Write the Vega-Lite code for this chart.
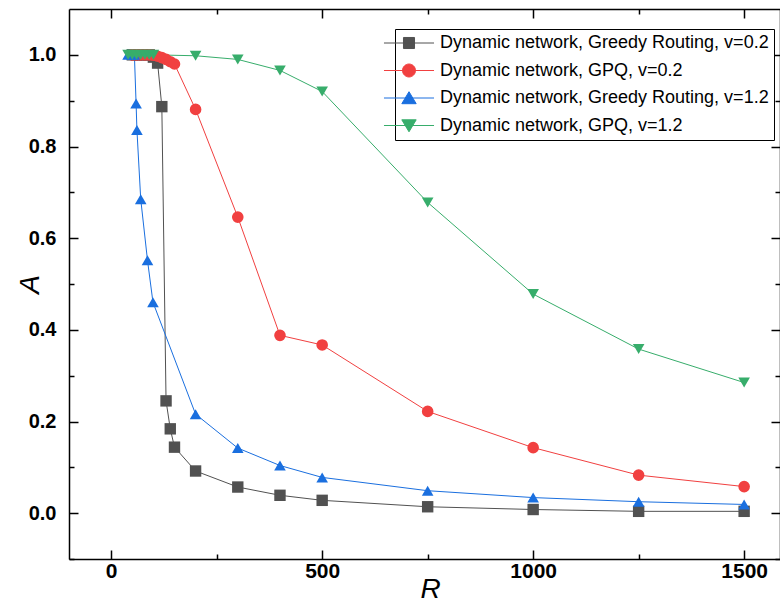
{
  "$schema": "https://vega.github.io/schema/vega-lite/v6.json",
  "width": 711,
  "height": 550,
  "autosize": "none",
  "padding": {"left": 69, "top": 9, "right": 0, "bottom": 44},
  "config": {"view": {"stroke": null}, "font": "Liberation Sans"},
  "data": {"values": [
    {"s": "Dynamic network, Greedy Routing, v=0.2", "R": 50, "A": 1.0},
    {"s": "Dynamic network, Greedy Routing, v=0.2", "R": 60, "A": 1.0},
    {"s": "Dynamic network, Greedy Routing, v=0.2", "R": 70, "A": 1.0},
    {"s": "Dynamic network, Greedy Routing, v=0.2", "R": 80, "A": 1.0},
    {"s": "Dynamic network, Greedy Routing, v=0.2", "R": 90, "A": 1.0},
    {"s": "Dynamic network, Greedy Routing, v=0.2", "R": 100, "A": 0.995},
    {"s": "Dynamic network, Greedy Routing, v=0.2", "R": 110, "A": 0.982},
    {"s": "Dynamic network, Greedy Routing, v=0.2", "R": 120, "A": 0.887},
    {"s": "Dynamic network, Greedy Routing, v=0.2", "R": 130, "A": 0.245},
    {"s": "Dynamic network, Greedy Routing, v=0.2", "R": 140, "A": 0.184},
    {"s": "Dynamic network, Greedy Routing, v=0.2", "R": 150, "A": 0.144},
    {"s": "Dynamic network, Greedy Routing, v=0.2", "R": 200, "A": 0.092},
    {"s": "Dynamic network, Greedy Routing, v=0.2", "R": 300, "A": 0.057},
    {"s": "Dynamic network, Greedy Routing, v=0.2", "R": 400, "A": 0.039},
    {"s": "Dynamic network, Greedy Routing, v=0.2", "R": 500, "A": 0.028},
    {"s": "Dynamic network, Greedy Routing, v=0.2", "R": 750, "A": 0.014},
    {"s": "Dynamic network, Greedy Routing, v=0.2", "R": 1000, "A": 0.008},
    {"s": "Dynamic network, Greedy Routing, v=0.2", "R": 1250, "A": 0.004},
    {"s": "Dynamic network, Greedy Routing, v=0.2", "R": 1500, "A": 0.004},
    {"s": "Dynamic network, GPQ, v=0.2", "R": 50, "A": 1.0},
    {"s": "Dynamic network, GPQ, v=0.2", "R": 60, "A": 1.0},
    {"s": "Dynamic network, GPQ, v=0.2", "R": 70, "A": 1.0},
    {"s": "Dynamic network, GPQ, v=0.2", "R": 80, "A": 1.0},
    {"s": "Dynamic network, GPQ, v=0.2", "R": 90, "A": 1.0},
    {"s": "Dynamic network, GPQ, v=0.2", "R": 100, "A": 0.999},
    {"s": "Dynamic network, GPQ, v=0.2", "R": 110, "A": 0.997},
    {"s": "Dynamic network, GPQ, v=0.2", "R": 120, "A": 0.994},
    {"s": "Dynamic network, GPQ, v=0.2", "R": 130, "A": 0.99},
    {"s": "Dynamic network, GPQ, v=0.2", "R": 140, "A": 0.985},
    {"s": "Dynamic network, GPQ, v=0.2", "R": 150, "A": 0.98},
    {"s": "Dynamic network, GPQ, v=0.2", "R": 200, "A": 0.881},
    {"s": "Dynamic network, GPQ, v=0.2", "R": 300, "A": 0.646},
    {"s": "Dynamic network, GPQ, v=0.2", "R": 400, "A": 0.388},
    {"s": "Dynamic network, GPQ, v=0.2", "R": 500, "A": 0.367},
    {"s": "Dynamic network, GPQ, v=0.2", "R": 750, "A": 0.222},
    {"s": "Dynamic network, GPQ, v=0.2", "R": 1000, "A": 0.143},
    {"s": "Dynamic network, GPQ, v=0.2", "R": 1250, "A": 0.083},
    {"s": "Dynamic network, GPQ, v=0.2", "R": 1500, "A": 0.058},
    {"s": "Dynamic network, Greedy Routing, v=1.2", "R": 40, "A": 1.0},
    {"s": "Dynamic network, Greedy Routing, v=1.2", "R": 50, "A": 1.0},
    {"s": "Dynamic network, Greedy Routing, v=1.2", "R": 55, "A": 1.0},
    {"s": "Dynamic network, Greedy Routing, v=1.2", "R": 59, "A": 0.894},
    {"s": "Dynamic network, Greedy Routing, v=1.2", "R": 61, "A": 0.836},
    {"s": "Dynamic network, Greedy Routing, v=1.2", "R": 70, "A": 0.685},
    {"s": "Dynamic network, Greedy Routing, v=1.2", "R": 86, "A": 0.552},
    {"s": "Dynamic network, Greedy Routing, v=1.2", "R": 99, "A": 0.46},
    {"s": "Dynamic network, Greedy Routing, v=1.2", "R": 200, "A": 0.216},
    {"s": "Dynamic network, Greedy Routing, v=1.2", "R": 300, "A": 0.142},
    {"s": "Dynamic network, Greedy Routing, v=1.2", "R": 400, "A": 0.104},
    {"s": "Dynamic network, Greedy Routing, v=1.2", "R": 500, "A": 0.078},
    {"s": "Dynamic network, Greedy Routing, v=1.2", "R": 750, "A": 0.049},
    {"s": "Dynamic network, Greedy Routing, v=1.2", "R": 1000, "A": 0.034},
    {"s": "Dynamic network, Greedy Routing, v=1.2", "R": 1250, "A": 0.025},
    {"s": "Dynamic network, Greedy Routing, v=1.2", "R": 1500, "A": 0.019},
    {"s": "Dynamic network, GPQ, v=1.2", "R": 40, "A": 1.0},
    {"s": "Dynamic network, GPQ, v=1.2", "R": 50, "A": 1.0},
    {"s": "Dynamic network, GPQ, v=1.2", "R": 60, "A": 1.0},
    {"s": "Dynamic network, GPQ, v=1.2", "R": 70, "A": 1.0},
    {"s": "Dynamic network, GPQ, v=1.2", "R": 80, "A": 1.0},
    {"s": "Dynamic network, GPQ, v=1.2", "R": 90, "A": 1.0},
    {"s": "Dynamic network, GPQ, v=1.2", "R": 100, "A": 1.0},
    {"s": "Dynamic network, GPQ, v=1.2", "R": 200, "A": 0.998},
    {"s": "Dynamic network, GPQ, v=1.2", "R": 300, "A": 0.99},
    {"s": "Dynamic network, GPQ, v=1.2", "R": 400, "A": 0.966},
    {"s": "Dynamic network, GPQ, v=1.2", "R": 500, "A": 0.92},
    {"s": "Dynamic network, GPQ, v=1.2", "R": 750, "A": 0.678},
    {"s": "Dynamic network, GPQ, v=1.2", "R": 1000, "A": 0.478},
    {"s": "Dynamic network, GPQ, v=1.2", "R": 1250, "A": 0.358},
    {"s": "Dynamic network, GPQ, v=1.2", "R": 1500, "A": 0.285}
  ]},
  "layer": [
    {
      "mark": {"type": "line", "strokeWidth": 1, "clip": true},
      "encoding": {
        "x": {"field": "R", "type": "quantitative",
          "scale": {"domain": [-100, 1585], "nice": false, "zero": false},
          "axis": {"orient": "bottom", "values": [0, 500, 1000, 1500], "format": "d", "tickSize": -9, "tickWidth": 1.5, "tickColor": "black",
            "domainColor": "black", "domainWidth": 1.5, "grid": false,
            "labelFont": "Liberation Sans", "labelFontWeight": "bold", "labelFontSize": 21, "labelColor": "black", "labelPadding": 10,
            "title": "R", "titleFont": "Liberation Sans", "titleFontStyle": "italic", "titleFontWeight": "normal", "titleFontSize": 28, "titleColor": "black",
            "titleX": 361, "titleY": 30, "titleBaseline": "middle", "titleAlign": "center"}},
        "y": {"field": "A", "type": "quantitative",
          "scale": {"domain": [-0.1, 1.1], "nice": false, "zero": false},
          "axis": {"orient": "left", "values": [0, 0.2, 0.4, 0.6, 0.8, 1.0], "format": ".1f", "tickSize": -9, "tickWidth": 1.5, "tickColor": "black",
            "domainColor": "black", "domainWidth": 1.5, "grid": false,
            "labelFont": "Liberation Sans", "labelFontWeight": "bold", "labelFontSize": 20, "labelColor": "black", "labelPadding": 22,
            "title": "A", "titleFont": "Liberation Sans", "titleFontStyle": "italic", "titleFontWeight": "normal", "titleFontSize": 28, "titleColor": "black",
            "titleX": -39, "titleY": 275, "titleAngle": 270, "titleBaseline": "middle", "titleAlign": "center"}},
        "color": {"field": "s", "type": "nominal", "title": null,
          "scale": {"domain": ["Dynamic network, Greedy Routing, v=0.2", "Dynamic network, GPQ, v=0.2", "Dynamic network, Greedy Routing, v=1.2", "Dynamic network, GPQ, v=1.2"],
            "range": ["#515151", "#F14040", "#1A6FDF", "#37AD6B"]},
          "legend": {"orient": "none", "legendX": 326, "legendY": 20, "strokeColor": "black", "fillColor": "white",
            "padding": 5, "symbolSize": 144, "symbolStrokeWidth": 1, "symbolOpacity": 1, "labelFontSize": 18, "labelFont": "Liberation Sans", "labelColor": "black", "labelOffset": 22, "rowPadding": 9.5, "labelLimit": 500,
            "encode": {"symbols": {"update": {
              "shape": {"signal": "['M-4.17,0H4.17M-0.92,-0.92H0.92V0.92H-0.92Z','M-4.17,0H4.17M1.08,0A1.08,1.08,0,1,1,-1.08,0A1.08,1.08,0,1,1,1.08,0Z','M-4.17,0H4.17M0,-1.05L1.2,0.95H-1.2Z','M-4.17,0H4.17M0,1.05L1.2,-0.95H-1.2Z'][indexof(['Dynamic network, Greedy Routing, v=0.2','Dynamic network, GPQ, v=0.2','Dynamic network, Greedy Routing, v=1.2','Dynamic network, GPQ, v=1.2'], datum.value)]"},
              "fill": {"signal": "scale('color', datum.value)"},
              "stroke": {"signal": "scale('color', datum.value)"}
            }}}}}
      }
    },
    {
      "transform": [{"filter": "datum.s === 'Dynamic network, Greedy Routing, v=0.2'"}],
      "mark": {"type": "point", "shape": "square", "filled": true, "size": 130, "opacity": 1, "color": "#515151"},
      "encoding": {
        "x": {"field": "R", "type": "quantitative",
          "axis": {"orient": "bottom", "values": [250, 750, 1250], "tickSize": -5, "tickWidth": 1.5, "tickColor": "black", "domain": false, "labels": false, "title": null, "grid": false}},
        "y": {"field": "A", "type": "quantitative",
          "axis": {"orient": "left", "values": [-0.1, 0.1, 0.3, 0.5, 0.7, 0.9], "tickSize": -5, "tickWidth": 1.5, "tickColor": "black", "domain": false, "labels": false, "title": null, "grid": false}}
      }
    },
    {
      "transform": [{"filter": "datum.s === 'Dynamic network, GPQ, v=0.2'"}],
      "mark": {"type": "point", "shape": "circle", "filled": true, "size": 135, "opacity": 1, "color": "#F14040"},
      "encoding": {
        "x": {"field": "R", "type": "quantitative", "axis": null},
        "y": {"field": "A", "type": "quantitative", "axis": null}
      }
    },
    {
      "transform": [{"filter": "datum.s === 'Dynamic network, Greedy Routing, v=1.2'"}],
      "mark": {"type": "point", "shape": "triangle-up", "filled": true, "size": 135, "opacity": 1, "color": "#1A6FDF"},
      "encoding": {
        "x": {"field": "R", "type": "quantitative", "axis": null},
        "y": {"field": "A", "type": "quantitative", "axis": null}
      }
    },
    {
      "transform": [{"filter": "datum.s === 'Dynamic network, GPQ, v=1.2'"}],
      "mark": {"type": "point", "shape": "triangle-down", "filled": true, "size": 135, "opacity": 1, "color": "#37AD6B"},
      "encoding": {
        "x": {"field": "R", "type": "quantitative", "axis": null},
        "y": {"field": "A", "type": "quantitative", "axis": null}
      }
    },
    {
      "mark": {"type": "point", "opacity": 0},
      "encoding": {
        "x": {"field": "R", "type": "quantitative",
          "axis": {"orient": "top", "values": [0, 500, 1000, 1500], "tickSize": -9, "tickWidth": 1.5, "tickColor": "black", "domainColor": "black", "domainWidth": 1.5, "labels": false, "title": null, "grid": false}},
        "y": {"field": "A", "type": "quantitative",
          "axis": {"orient": "right", "values": [0, 0.2, 0.4, 0.6, 0.8, 1.0], "tickSize": -9, "tickWidth": 1.5, "tickColor": "black", "domainColor": "black", "domainWidth": 1.5, "labels": false, "title": null, "grid": false}}
      }
    },
    {
      "mark": {"type": "point", "opacity": 0},
      "encoding": {
        "x": {"field": "R", "type": "quantitative",
          "axis": {"orient": "top", "values": [250, 750, 1250], "tickSize": -5, "tickWidth": 1.5, "tickColor": "black", "domain": false, "labels": false, "title": null, "grid": false}},
        "y": {"field": "A", "type": "quantitative",
          "axis": {"orient": "right", "values": [-0.1, 0.1, 0.3, 0.5, 0.7, 0.9], "tickSize": -5, "tickWidth": 1.5, "tickColor": "black", "domain": false, "labels": false, "title": null, "grid": false}}
      }
    }
  ],
  "resolve": {"axis": {"x": "independent", "y": "independent"}}
}
